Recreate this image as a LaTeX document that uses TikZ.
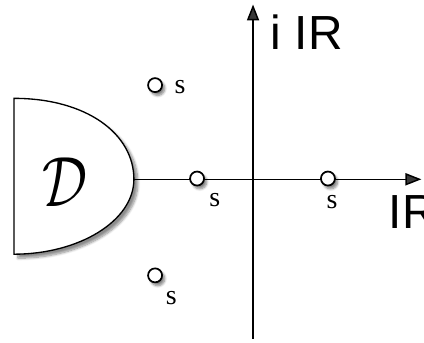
\documentclass[tikz,border=0pt]{standalone}
\usepackage{fontspec}
\setmainfont{Liberation Serif}
\newfontfamily\axisfont{Liberation Sans}
\usetikzlibrary{arrows.meta,shadows.blur}
\begin{document}
\begin{tikzpicture}[line width=1.1pt,
    pt/.style={circle, draw, fill=white, line width=1.3pt, minimum size=0.37cm, inner sep=0pt,
      blur shadow={shadow xshift=2pt, shadow yshift=-2.5pt, shadow blur steps=6, shadow opacity=50}},
    lab/.style={font=\fontsize{21}{24}\selectfont, inner sep=0pt},
    axlab/.style={font=\axisfont\fontsize{36}{40}\selectfont, inner sep=0pt}]
  \useasboundingbox (-6.69,-4.31) rectangle (4.52,4.74);
  % region D
  \coordinate (tip) at (-3.15,0);
  \draw[fill=white, line width=1pt,
      blur shadow={shadow xshift=3pt, shadow yshift=-3pt, shadow blur steps=8, shadow opacity=45}]
    (-6.32,2.14) .. controls (-4.4,2.14) and (-3.15,1.2) .. (tip)
    .. controls (-3.15,-1.1) and (-4.6,-1.98) .. (-6.32,-1.98) -- cycle;
  \node[inner sep=0pt, font=\Huge, xscale=1.7, yscale=2.15] (dom) at (-4.97,-0.08) {$\mathcal{D}$};
  % axes
  \coordinate (xend) at (4.45,0);
  \coordinate (ybot) at (0,-4.21);
  \coordinate (ytop) at (0,4.62);
  \draw[-{Triangle[length=0.42cm, width=0.32cm]}] (tip) -- (xend);
  \draw[-{Triangle[length=0.42cm, width=0.32cm]}] (ybot) -- (ytop);
  \node[axlab, anchor=west] (re) at (3.57,-0.86) {IR};
  \node[axlab] (im) at (1.42,3.88) {i IR};
  % points
  \node[pt] (s1) at (-2.59,2.49) {};
  \node[pt] (s2) at (-1.48,0.02) {};
  \node[pt] (s3) at (1.98,0.02) {};
  \node[pt] (s4) at (-2.59,-2.54) {};
  \node[lab] (l1) at (-1.93,2.43) {s};
  \node[lab] (l2) at (-1.01,-0.55) {s};
  \node[lab] (l3) at (2.09,-0.61) {s};
  \node[lab] (l4) at (-2.16,-3.13) {s};
\end{tikzpicture}
\end{document}
